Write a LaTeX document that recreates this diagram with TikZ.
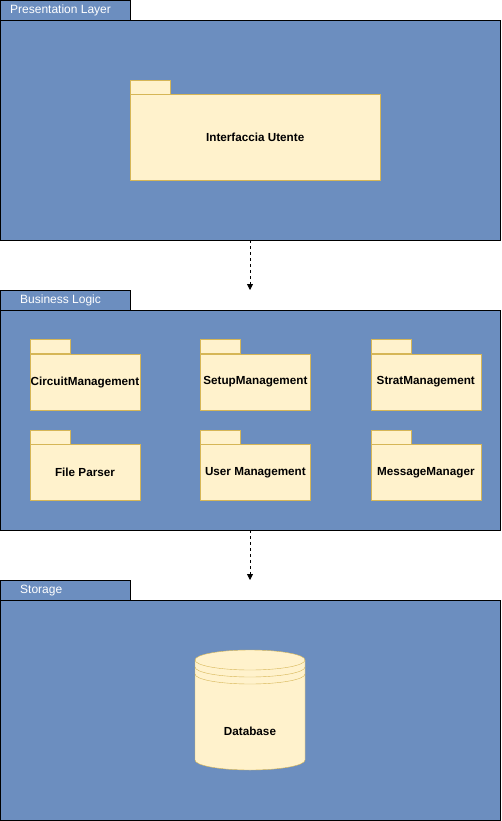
\documentclass[tikz,border=0pt]{standalone}
\usepackage{fontspec}
\setmainfont{Liberation Sans}
\usetikzlibrary{arrows.meta,positioning}

\definecolor{layerblue}{HTML}{6C8EBF}
\definecolor{pkgfill}{HTML}{FFF2CC}
\definecolor{pkgline}{HTML}{D6B656}

\tikzset{
    layer/.style={draw=black,fill=layerblue,anchor=north west,inner sep=0pt,
        minimum width=500pt,minimum height=220pt},
    layertab/.style={draw=black,fill=layerblue,anchor=north west,inner sep=0pt,
        minimum width=130pt,minimum height=20pt},
    layertitle/.style={anchor=west,inner sep=0pt,text=white,
        font=\fontsize{12}{14}\selectfont},
    pkgtab/.style={draw=pkgline,fill=pkgfill,anchor=south west,inner sep=0pt,
        minimum width=40pt,minimum height=14pt},
    pkg/.style={draw=pkgline,fill=pkgfill,inner sep=0pt,
        minimum width=110pt,minimum height=56pt,
        font=\fontsize{11.7}{13}\selectfont\bfseries},
    dep/.style={-{Triangle[length=6pt,width=6pt]},dash pattern=on 3pt off 3pt,thick}
}

\begin{document}
\begin{tikzpicture}[x=1pt,y=-1pt]
    \useasboundingbox (0,0) rectangle (501,821);

    % Presentation layer %
    \node[layer] (pres) at (0,20) {};
    \node[layertab] (prestab) at (0,0) {};
    \node[layertitle] (prestitle) at ([xshift=10pt]prestab.west) {Presentation Layer};
    \node[pkg,minimum width=250pt,minimum height=86pt,anchor=north west] (ui) at (130,94) {Interfaccia Utente};
    \node[pkgtab] (uitab) at (ui.north west) {};

    % Business logic %
    \node[layer] (bus) at (0,310) {};
    \node[layertab] (bustab) at (0,290) {};
    \node[layertitle] (bustitle) at ([xshift=20pt]bustab.west) {Business Logic};
    \coordinate (busin) at (250,290);

    \node[pkg] (circ) at (85,382) {CircuitManagement};
    \node[pkg,right=60pt of circ] (setup) {SetupManagement};
    \node[pkg,right=60pt of setup] (strat) {StratManagement};
    \node[pkg,below=34pt of circ] (parser) {File Parser};
    \node[pkg,right=60pt of parser] (user) {User Management};
    \node[pkg,right=60pt of user] (msg) {MessageManager};
    \foreach \p in {circ,setup,strat,parser,user,msg}
        \node[pkgtab] (\p tab) at (\p.north west) {};

    % Storage %
    \node[layer] (store) at (0,600) {};
    \node[layertab] (storetab) at (0,580) {};
    \node[layertitle] (storetitle) at ([xshift=20pt]storetab.west) {Storage};
    \coordinate (storein) at (250,580);

    % Database %
    \filldraw[draw=pkgline,fill=pkgfill]
        (195,660) -- (195,760) arc[start angle=180,end angle=360,x radius=55,y radius=-10]
        -- (305,660) arc[start angle=0,end angle=180,x radius=55,y radius=-10] -- cycle;
    \draw[pkgline] (195,660) arc[start angle=180,end angle=360,x radius=55,y radius=-10];
    \draw[pkgline] (195,667) arc[start angle=180,end angle=360,x radius=55,y radius=-10];
    \draw[pkgline] (195,674) arc[start angle=180,end angle=360,x radius=55,y radius=-10];
    \node[font=\fontsize{11.7}{13}\selectfont\bfseries] (db) at (250,731) {Database};

    % Dependencies %
    \draw[dep] (pres.south -| busin) -- (busin);
    \draw[dep] (bus.south -| storein) -- (storein);
\end{tikzpicture}
\end{document}
